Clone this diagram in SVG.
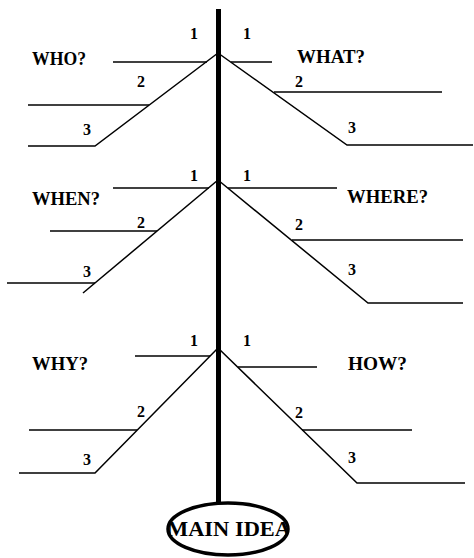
<svg xmlns="http://www.w3.org/2000/svg" width="474" height="558" viewBox="0 0 474 558">
<defs>
<style>
.ln{stroke:#000;stroke-width:1.5;fill:none;stroke-linecap:butt}
.q{font-family:"Liberation Serif","Times New Roman",serif;font-weight:bold;font-size:18px;fill:#000}
.d{font-family:"Liberation Serif","Times New Roman",serif;font-weight:bold;font-size:16px;fill:#000}
.trunk{stroke:#000;stroke-width:5;fill:none}
</style>
<clipPath id="ec"><ellipse cx="228" cy="529" rx="59" ry="25"/></clipPath>
</defs>
<rect width="474" height="558" fill="#fff"/>
<g id="connectors">
<line class="trunk" x1="218.5" y1="9" x2="218.5" y2="504"/>
</g>
<g id="who">
<text class="q" x="32" y="65" textLength="54" lengthAdjust="spacingAndGlyphs">WHO?</text>
<polyline class="ln" points="218,53 95,146 28,146"/>
<line class="ln" x1="113" y1="62" x2="207" y2="62"/>
<line class="ln" x1="28" y1="105" x2="149" y2="105"/>
<text class="d" x="190" y="39">1</text>
<text class="d" x="137" y="87">2</text>
<text class="d" x="83" y="135">3</text>
</g>
<g id="what">
<text class="q" x="297" y="63" textLength="68" lengthAdjust="spacingAndGlyphs">WHAT?</text>
<polyline class="ln" points="218,53 347,145 473,145"/>
<line class="ln" x1="231" y1="62" x2="272" y2="62"/>
<line class="ln" x1="274" y1="92" x2="442" y2="92"/>
<text class="d" x="243" y="39">1</text>
<text class="d" x="295" y="87">2</text>
<text class="d" x="348" y="133">3</text>
</g>
<g id="when">
<text class="q" x="32" y="205" textLength="68" lengthAdjust="spacingAndGlyphs">WHEN?</text>
<line class="ln" x1="218" y1="180" x2="83" y2="293"/>
<line class="ln" x1="113" y1="188" x2="209" y2="188"/>
<line class="ln" x1="50" y1="231" x2="157" y2="231"/>
<line class="ln" x1="7" y1="283" x2="95" y2="283"/>
<text class="d" x="190" y="181">1</text>
<text class="d" x="137" y="228">2</text>
<text class="d" x="83" y="277">3</text>
</g>
<g id="where">
<text class="q" x="347" y="203" textLength="81" lengthAdjust="spacingAndGlyphs">WHERE?</text>
<polyline class="ln" points="218,180 368,303 463,303"/>
<line class="ln" x1="228" y1="188" x2="337" y2="188"/>
<line class="ln" x1="292" y1="240" x2="463" y2="240"/>
<text class="d" x="243" y="181">1</text>
<text class="d" x="295" y="230">2</text>
<text class="d" x="348" y="275">3</text>
</g>
<g id="why">
<text class="q" x="32" y="370" textLength="56" lengthAdjust="spacingAndGlyphs">WHY?</text>
<polyline class="ln" points="218,348 95,473 19,473"/>
<line class="ln" x1="135" y1="356" x2="210" y2="356"/>
<line class="ln" x1="29" y1="430" x2="137" y2="430"/>
<text class="d" x="190" y="346">1</text>
<text class="d" x="137" y="417">2</text>
<text class="d" x="83" y="465">3</text>
</g>
<g id="how">
<text class="q" x="348" y="370" textLength="59" lengthAdjust="spacingAndGlyphs">HOW?</text>
<polyline class="ln" points="218,348 357,483 465,483"/>
<line class="ln" x1="238" y1="367" x2="317" y2="367"/>
<line class="ln" x1="302" y1="430" x2="412" y2="430"/>
<text class="d" x="243" y="346">1</text>
<text class="d" x="295" y="418">2</text>
<text class="d" x="348" y="463">3</text>
</g>
<g id="main-idea">
<ellipse cx="228" cy="529" rx="60" ry="26" fill="#fff"/>
<text x="229" y="536" text-anchor="middle" font-family="'Liberation Serif','Times New Roman',serif" font-weight="bold" font-size="20" textLength="124" lengthAdjust="spacingAndGlyphs" clip-path="url(#ec)">MAIN IDEA</text>
<ellipse cx="228" cy="529" rx="60" ry="26" fill="none" stroke="#000" stroke-width="3.5"/>
</g>
</svg>
